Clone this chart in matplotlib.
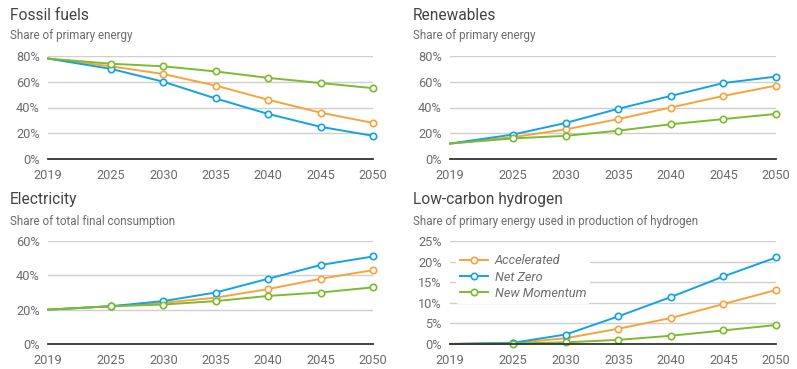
import matplotlib
matplotlib.use("Agg")
import matplotlib.pyplot as plt
from matplotlib.ticker import FuncFormatter

plt.rcParams["font.family"] = ["Roboto", "DejaVu Sans"]

YEARS = [2019, 2025, 2030, 2035, 2040, 2045, 2050]
SCENARIOS = ["Accelerated", "Net Zero", "New Momentum"]
COLORS = {"Accelerated": "#F7A33A", "Net Zero": "#13A3E1", "New Momentum": "#7DBA2F"}

# Fossil fuels - share of primary energy (%)
fossil_acc = [78, 72, 66, 57, 46, 36, 28]
fossil_nz = [78, 70, 60, 47, 35, 25, 18]
fossil_nm = [78, 74, 72, 68, 63, 59, 55]

# Renewables - share of primary energy (%)
renew_acc = [12, 17, 23, 31, 40, 49, 57]
renew_nz = [12, 19, 28, 39, 49, 59, 64]
renew_nm = [12, 16, 18, 22, 27, 31, 35]

# Electricity - share of total final consumption (%)
elec_acc = [20, 22, 24, 27, 32, 38, 43]
elec_nz = [20, 22, 25, 30, 38, 46, 51]
elec_nm = [20, 22, 23, 25, 28, 30, 33]

# Low-carbon hydrogen (%)
hyd_acc = [0, 0.2, 1.4, 3.7, 6.3, 9.7, 13.1]
hyd_nz = [0, 0.3, 2.3, 6.7, 11.4, 16.4, 21.0]
hyd_nm = [0, 0.1, 0.4, 1.0, 2.0, 3.3, 4.6]

panels = [
    ("Fossil fuels", "Share of primary energy",
     {"Accelerated": fossil_acc, "Net Zero": fossil_nz, "New Momentum": fossil_nm},
     [0, 20, 40, 60, 80]),
    ("Renewables", "Share of primary energy",
     {"Accelerated": renew_acc, "Net Zero": renew_nz, "New Momentum": renew_nm},
     [0, 20, 40, 60, 80]),
    ("Electricity", "Share of total final consumption",
     {"Accelerated": elec_acc, "Net Zero": elec_nz, "New Momentum": elec_nm},
     [0, 20, 40, 60]),
    ("Low-carbon hydrogen", "Share of primary energy used in production of hydrogen",
     {"Accelerated": hyd_acc, "Net Zero": hyd_nz, "New Momentum": hyd_nm},
     [0, 5, 10, 15, 20, 25]),
]

W, H = 797, 369
fig = plt.figure(figsize=(W / 100, H / 100), dpi=100)

# axes rectangles in pixels: (left, right, top, bottom)
boxes = [(48, 373, 56, 159), (450, 776, 56, 159),
         (48, 373, 241, 344), (450, 776, 241, 344)]
title_x = [10, 413, 10, 413]

for i, (title, sub, series, ticks) in enumerate(panels):
    l, r, t, b = boxes[i]
    ax = fig.add_axes([l / W, 1 - b / H, (r - l) / W, (b - t) / H])
    for name in SCENARIOS:
        ax.plot(YEARS, series[name], color=COLORS[name], lw=1.4, zorder=3,
                clip_on=False)
        ax.plot(YEARS[1:], series[name][1:], ls="none", marker="o", ms=4.6,
                mfc="white", mec=COLORS[name], mew=1.2, zorder=4, clip_on=False)
    ax.set_xlim(2019, 2050)
    ax.set_ylim(0, ticks[-1])
    ax.set_yticks(ticks)
    ax.set_xticks(YEARS)
    ax.yaxis.set_major_formatter(FuncFormatter(lambda v, p: f"{v:.0f}%"))
    for v in ticks[1:]:
        ax.axhline(v, color="#cfcfcf", lw=1, zorder=1)
    for s in ["top", "right", "left"]:
        ax.spines[s].set_visible(False)
    ax.spines["bottom"].set_color("#333333")
    ax.spines["bottom"].set_linewidth(1.3)
    ax.spines["bottom"].set_zorder(5)
    ax.tick_params(length=0, labelsize=9.2, labelcolor="#6b6b6b")
    ax.tick_params(axis="x", pad=7)
    ax.tick_params(axis="y", pad=6)

    fig.text(title_x[i] / W, 1 - (t - 41) / H, title, fontsize=11.2,
             color="#444444", va="center", ha="left")
    fig.text(title_x[i] / W, 1 - (t - 20) / H, sub, fontsize=8.4,
             color="#6b6b6b", va="center", ha="left")

    if i == 3:
        handles = [plt.Line2D([], [], color=COLORS[n], lw=1.4, marker="o",
                              ms=4.6, mfc="white", mec=COLORS[n], mew=1.2)
                   for n in SCENARIOS]
        leg = ax.legend(handles=handles, labels=SCENARIOS, loc="upper left",
                        bbox_to_anchor=(0.0, 0.97), frameon=True,
                        facecolor="white", edgecolor="none", framealpha=1,
                        prop={"style": "italic", "size": 9.2},
                        handlelength=2.2, labelspacing=0.25, borderpad=0.3,
                        handletextpad=0.5)
        for txt in leg.get_texts():
            txt.set_color("#6b6b6b")

fig.savefig("out.png", dpi=100, facecolor="white")
